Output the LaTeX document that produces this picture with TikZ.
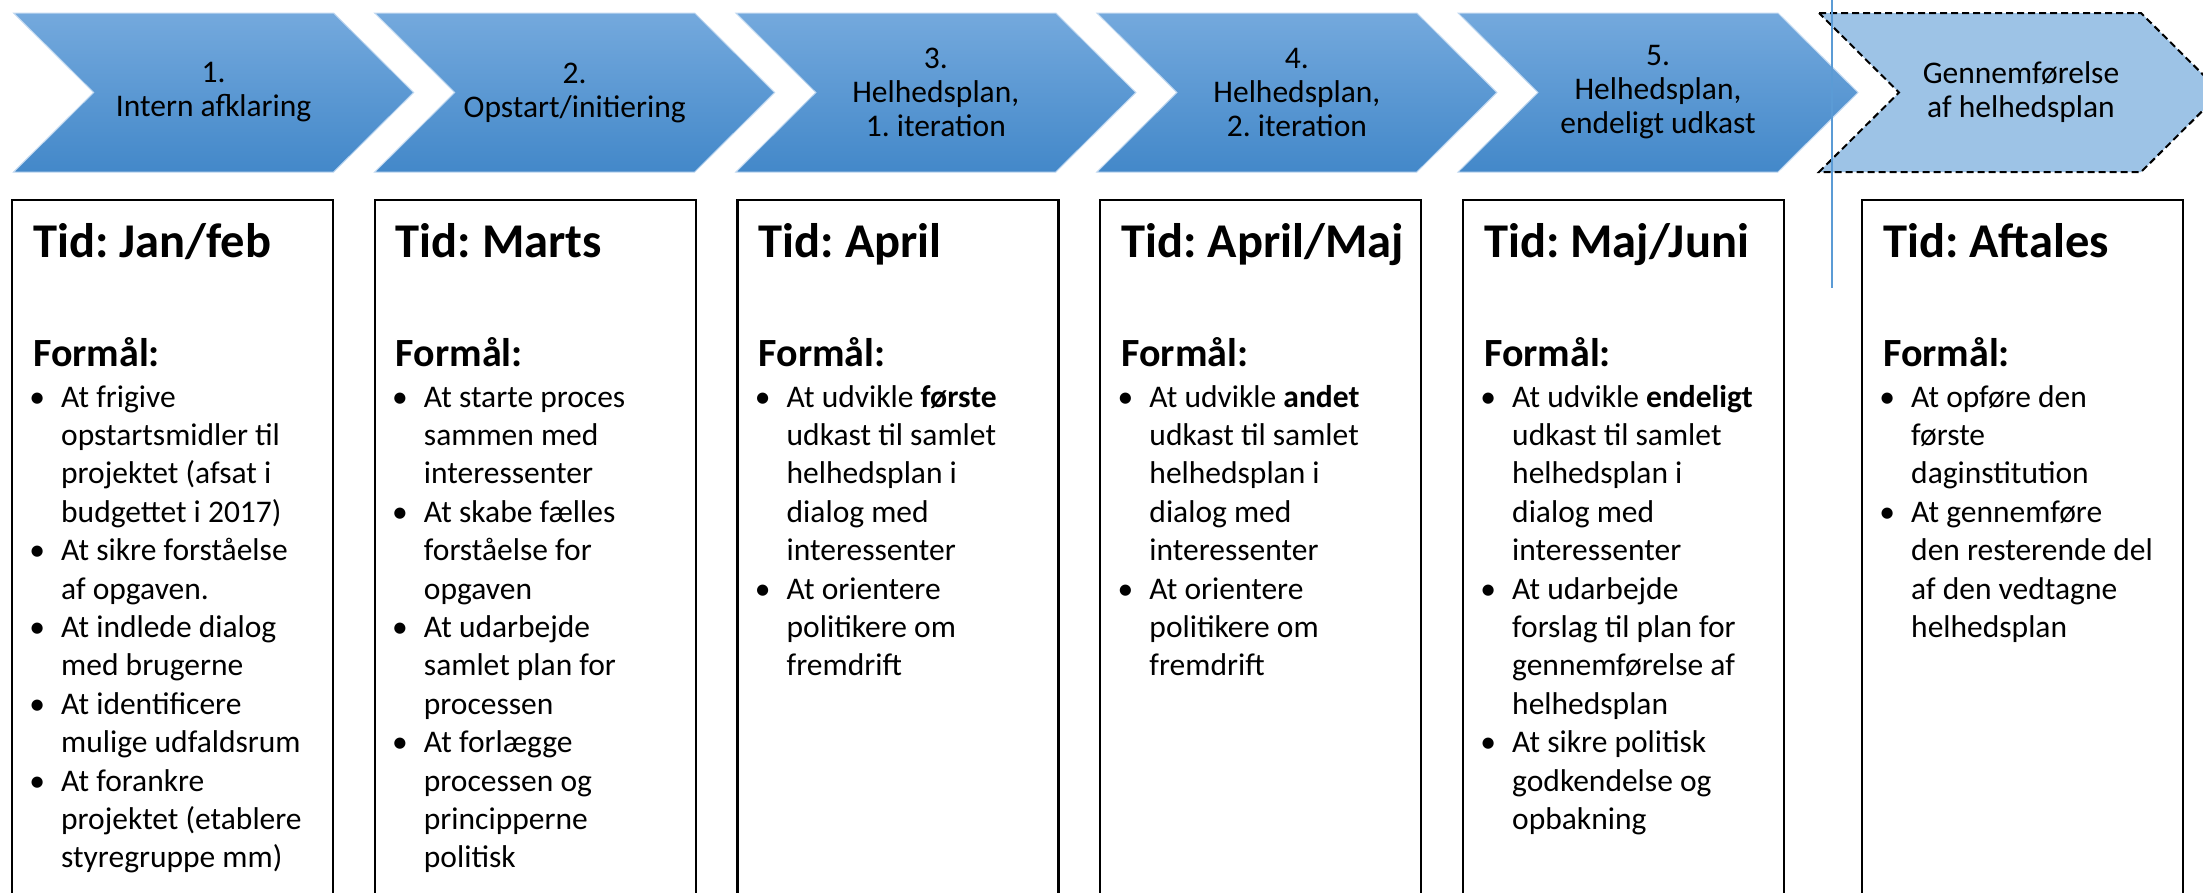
\documentclass[tikz,border=0pt]{standalone}
\usepackage{fontspec}
\setmainfont{Carlito}
\frenchspacing
\definecolor{chevtop}{RGB}{116,169,221}
\definecolor{chevbot}{RGB}{67,136,201}
\definecolor{chevlight}{RGB}{157,195,230}
\definecolor{markline}{RGB}{91,155,213}
\newcommand{\bul}{\llap{\makebox[48pt]{\textbullet}}}
\tikzset{
  chevron/.style={top color=chevtop, bottom color=chevbot, draw=chevtop!45!white, line width=1pt},
  chevnext/.style={fill=chevlight, draw=black, line width=2pt, dash pattern=on 7pt off 4pt},
  chevtxt/.style={align=center, inner sep=0pt, font=\fontsize{31.5}{34}\selectfont},
  phasebox/.style={draw=black, line width=2.2pt, minimum width=321pt, minimum height=720pt,
    anchor=north west, inner sep=0pt, outer sep=0pt},
  tidtxt/.style={anchor=base west, inner sep=0pt, font=\fontsize{48.5}{58}\selectfont\bfseries},
  formtxt/.style={anchor=base west, inner sep=0pt, font=\fontsize{40}{48}\selectfont\bfseries},
  bodytxt/.style={anchor=base west, inner sep=0pt, font=\fontsize{31.5}{38.4}\selectfont},
  marker/.style={draw=markline, line width=1.5pt}
}
\begin{document}
\begin{tikzpicture}[x=1pt,y=-1pt]
  \useasboundingbox (0,0) rectangle (2203,892);
  \clip (0,0) rectangle (2203,892);
  % phases
  \foreach \n/\txt in {1/{1.\\Intern afklaring}, 2/{2.\\Opstart/initiering},
      3/{3.\\Helhedsplan,\\1. iteration}, 4/{4.\\Helhedsplan,\\2. iteration},
      5/{5.\\Helhedsplan,\\endeligt udkast}} {
    \pgfmathsetmacro\cx{13.6+361.1*(\n-1)}
    \path[chevron] (\cx,13) -- ++(320,0) -- ++(80,79.5) -- ++(-80,79.5)
      -- ++(-320,0) -- ++(80,-79.5) -- cycle;
    \node[chevtxt] (chev\n) at (\cx+200,92.5) {\txt};
  }
  \path[chevnext] (1819,13) -- ++(322,0) -- ++(80,79.5) -- ++(-80,79.5)
    -- ++(-322,0) -- ++(80,-79.5) -- cycle;
  \node[chevtxt] (chev6) at (2021,92.5) {Gennemførelse\\af helhedsplan};
  % boxes
  \foreach \n/\bx/\tid in {1/12/{Jan/feb}, 2/374.75/Marts, 3/737.5/April,
      4/1100.25/{April/Maj}, 5/1463/{Maj/Juni}, 6/1862/Aftales} {
    \node[phasebox] (box\n) at (\bx,200) {};
    \node[tidtxt] (tid\n) at (\bx+21,257) {Tid: \tid};
    \node[formtxt] (form\n) at (\bx+21,366) {Formål:};
  }
  \node[bodytxt] (list1) at (61,407) {\begin{tabular}[t]{@{}l@{}}
    \bul At frigive\\ opstartsmidler til\\ projektet (afsat i\\ budgettet i 2017)\\
    \bul At sikre forståelse\\ af opgaven.\\
    \bul At indlede dialog\\ med brugerne\\
    \bul At identificere\\ mulige udfaldsrum\\
    \bul At forankre\\ projektet (etablere\\ styregruppe mm)
  \end{tabular}};
  \node[bodytxt] (list2) at (423.75,407) {\begin{tabular}[t]{@{}l@{}}
    \bul At starte proces\\ sammen med\\ interessenter\\
    \bul At skabe fælles\\ forståelse for\\ opgaven\\
    \bul At udarbejde\\ samlet plan for\\ processen\\
    \bul At forlægge\\ processen og\\ principperne\\ politisk
  \end{tabular}};
  \node[bodytxt] (list3) at (786.5,407) {\begin{tabular}[t]{@{}l@{}}
    \bul At udvikle \textbf{første}\\ udkast til samlet\\ helhedsplan i\\ dialog med\\ interessenter\\
    \bul At orientere\\ politikere om\\ fremdrift
  \end{tabular}};
  \node[bodytxt] (list4) at (1149.25,407) {\begin{tabular}[t]{@{}l@{}}
    \bul At udvikle \textbf{andet}\\ udkast til samlet\\ helhedsplan i\\ dialog med\\ interessenter\\
    \bul At orientere\\ politikere om\\ fremdrift
  \end{tabular}};
  \node[bodytxt] (list5) at (1512,407) {\begin{tabular}[t]{@{}l@{}}
    \bul At udvikle \textbf{endeligt}\\ udkast til samlet\\ helhedsplan i\\ dialog med\\ interessenter\\
    \bul At udarbejde\\ forslag til plan for\\ gennemførelse af\\ helhedsplan\\
    \bul At sikre politisk\\ godkendelse og\\ opbakning
  \end{tabular}};
  \node[bodytxt] (list6) at (1911,407) {\begin{tabular}[t]{@{}l@{}}
    \bul At opføre den\\ første\\ daginstitution\\
    \bul At gennemføre\\ den resterende del\\ af den vedtagne\\ helhedsplan
  \end{tabular}};
  % marker line
  \coordinate (mtop) at (1832,0);
  \coordinate (mbot) at (1832,288);
  \draw[marker] (mtop) -- (mbot);
\end{tikzpicture}
\end{document}
